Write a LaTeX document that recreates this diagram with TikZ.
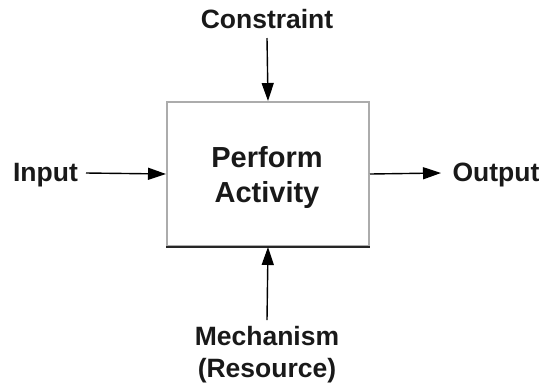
\documentclass[tikz,border=0pt]{standalone}
\usepackage{fontspec}
\setmainfont{Liberation Sans}
\usetikzlibrary{arrows.meta}
\begin{document}
\begin{tikzpicture}[x=1pt,y=-1pt,
  lbl/.style={font=\fontsize{26.5}{32}\selectfont\bfseries, inner sep=0pt, text=black!90},
  arr/.style={line width=1.4pt, -{Triangle[length=18pt,width=12pt]}},
  actbox/.style={draw=gray!65, line width=2pt, minimum width=202pt, minimum height=144pt,
    inner sep=0pt},
  acttext/.style={font=\fontsize{29}{35}\selectfont\bfseries, inner sep=0pt, align=center, text=black!90}]
  \useasboundingbox (0,0) rectangle (544,384);
  % activity box
  \node[actbox] (act) at (268,174) {};
  \draw[line width=1.6pt, black!85] (act.south west) -- (act.south east);
  \node[acttext, anchor=base] (perf) at (267,167) {Perform};
  \node[acttext, anchor=base] (actv) at (267,202) {Activity};
  % labels
  \node[lbl, anchor=base] (con) at (267,28) {Constraint};
  \node[lbl, anchor=base] (inp) at (45.5,181) {Input};
  \node[lbl, anchor=base] (out) at (496,181) {Output};
  \node[lbl, anchor=base] (mech) at (267,345) {Mechanism};
  \node[lbl, anchor=base] (res) at (267,377) {(Resource)};
  % arrow tails
  \coordinate (conend) at (267,38);
  \coordinate (inpend) at (86,173);
  \coordinate (outend) at (441,173);
  \coordinate (mechend) at (267,320);
  % ICOM arrows
  \draw[arr] (conend) -- (act.north);
  \draw[arr] (inpend) -- (act.west);
  \draw[arr] (act.east) -- (outend);
  \draw[arr] (mechend) -- (act.south);
\end{tikzpicture}
\end{document}
